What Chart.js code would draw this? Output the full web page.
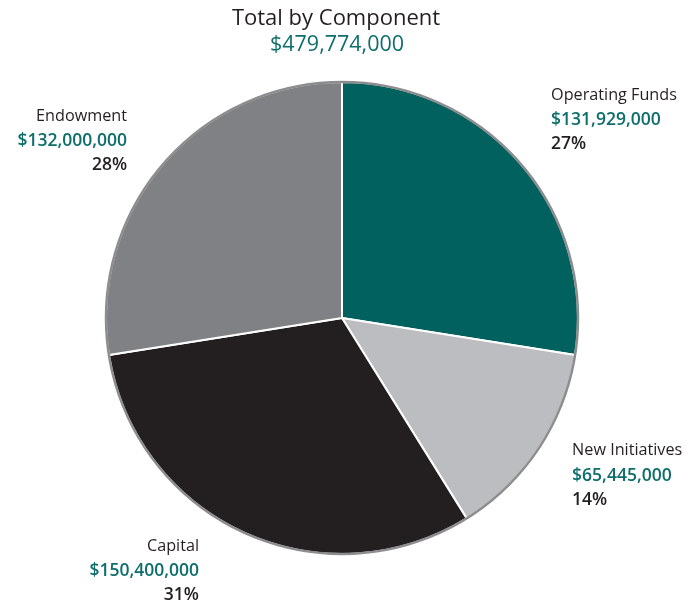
<!DOCTYPE html>
<html>
<head>
<meta charset="utf-8">
<script src="https://cdn.jsdelivr.net/npm/chart.js@4.4.1/dist/chart.umd.min.js"></script>
<style>
  html, body { margin: 0; padding: 0; background: #ffffff; }
  #wrap { width: 688px; height: 605px; position: relative; }
</style>
</head>
<body>
<div id="wrap"><canvas id="pie" width="688" height="605"></canvas></div>
<script>
// Fundraising totals by component
const categories = ['Operating Funds', 'New Initiatives', 'Capital', 'Endowment'];
const amounts = [131929000, 65445000, 150400000, 132000000];
const percentLabels = ['27%', '14%', '31%', '28%'];
const sliceColors = ['#00615f', '#bcbdc0', '#231f20', '#808184'];

const chartTitle = 'Total by Component';
const total = amounts.reduce((a, b) => a + b, 0);

const money = v => '$' + v.toLocaleString('en-US');

// Label block placement, relative to the pie centre in units of the radius
const labelPlacement = [
  { kx: 0.886, ky: -0.945, align: 'left' },
  { kx: 0.975, ky: 0.563, align: 'left' },
  { kx: -0.606, ky: 0.966, align: 'right' },
  { kx: -0.911, ky: -0.856, align: 'right' }
];

const FONT = '"Open Sans", "Noto Sans", sans-serif';
const TEAL_TEXT = '#0d6e6b';
const DARK_TEXT = '#231f20';

const decorations = {
  id: 'decorations',
  afterDatasetsDraw(chart) {
    const ctx = chart.ctx;
    const meta = chart.getDatasetMeta(0);
    const arc = meta.data[0];
    const cx = arc.x, cy = arc.y, R = arc.outerRadius;

    // grey rim around the pie
    ctx.save();
    ctx.beginPath();
    ctx.arc(cx, cy, R, 0, Math.PI * 2);
    ctx.strokeStyle = '#8d8d8f';
    ctx.lineWidth = 2.5;
    ctx.stroke();
    ctx.restore();

    // heading
    ctx.save();
    ctx.textAlign = 'center';
    ctx.textBaseline = 'middle';
    ctx.fillStyle = DARK_TEXT;
    ctx.font = '400 22px ' + FONT;
    ctx.fillText(chartTitle, 336, 19);
    ctx.fillStyle = TEAL_TEXT;
    ctx.font = '400 21.5px ' + FONT;
    ctx.fillText(money(total), 337, 45);
    ctx.restore();

    // slice labels
    ctx.save();
    ctx.textBaseline = 'middle';
    categories.forEach((name, i) => {
      const p = labelPlacement[i];
      const x = cx + p.kx * R;
      const y = cy + p.ky * R;
      ctx.textAlign = p.align;
      ctx.fillStyle = DARK_TEXT;
      ctx.font = '400 16.2px ' + FONT;
      ctx.fillText(name, x, y);
      ctx.fillStyle = TEAL_TEXT;
      ctx.font = '600 17.5px ' + FONT;
      ctx.fillText(money(amounts[i]), x, y + 25);
      ctx.fillStyle = DARK_TEXT;
      ctx.font = '600 17.5px ' + FONT;
      ctx.fillText(percentLabels[i], x, y + 49);
    });
    ctx.restore();
  }
};

new Chart(document.getElementById('pie'), {
  type: 'pie',
  data: {
    labels: categories,
    datasets: [{
      data: amounts,
      backgroundColor: sliceColors,
      borderColor: '#ffffff',
      borderWidth: 2
    }]
  },
  options: {
    responsive: false,
    animation: false,
    radius: 236,
    layout: { padding: { top: 31, right: 4, left: 0, bottom: 0 } },
    plugins: {
      legend: { display: false },
      tooltip: { enabled: false },
      title: { display: false }
    }
  },
  plugins: [decorations]
});
</script>
</body>
</html>
